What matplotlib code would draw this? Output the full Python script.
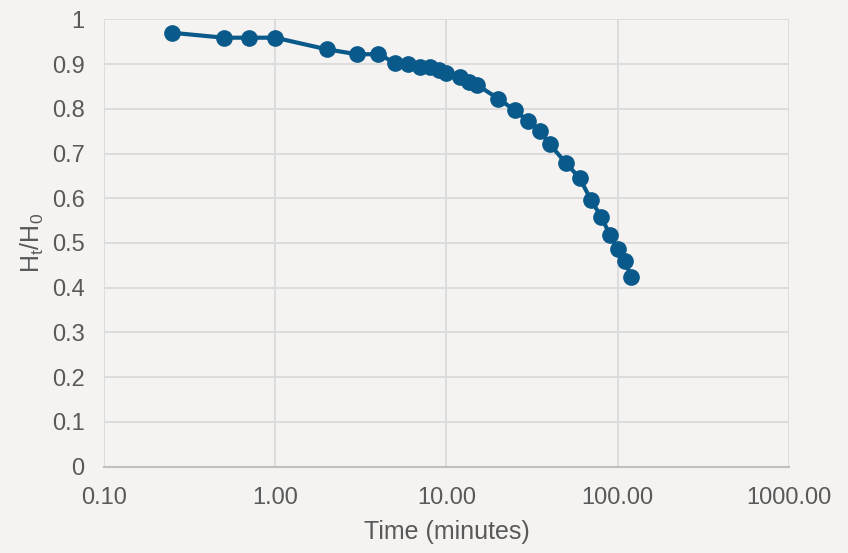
import matplotlib
matplotlib.use('Agg')
import matplotlib.pyplot as plt
from matplotlib.ticker import FuncFormatter, FixedLocator

# time in minutes and relative height Ht/H0
time_min = [0.25, 0.5, 0.7, 1, 2, 3, 4, 5, 6, 7, 8, 9, 10, 12, 13.5, 15,
            20, 25, 30, 35, 40, 50, 60, 70, 80, 90, 100, 110, 120]
height_ratio = [0.970, 0.959, 0.959, 0.959, 0.933, 0.922, 0.922, 0.903, 0.901,
                0.893, 0.894, 0.886, 0.880, 0.870, 0.859, 0.854,
                0.823, 0.797, 0.772, 0.751, 0.721, 0.678, 0.645, 0.595,
                0.559, 0.518, 0.486, 0.460, 0.424]

x_ticks = [0.1, 1, 10, 100, 1000]
y_ticks = [0, 0.1, 0.2, 0.3, 0.4, 0.5, 0.6, 0.7, 0.8, 0.9, 1]

bg = '#f5f3f1'
txt = '#595959'
blue = '#09598a'

plt.rcParams['font.family'] = ['Liberation Sans', 'DejaVu Sans']

fig = plt.figure(figsize=(8.48, 5.53), dpi=100, facecolor=bg)
ax = fig.add_axes([0.1226, 0.1564, 0.8078, 0.8086], facecolor=bg)

ax.plot(time_min, height_ratio, color=blue, lw=3, marker='o',
        markersize=11, markerfacecolor=blue, markeredgecolor=blue, zorder=3)

ax.set_xscale('log')
ax.set_xlim(0.1, 1000)
ax.set_ylim(0, 1)
ax.xaxis.set_major_locator(FixedLocator(x_ticks))
ax.xaxis.set_minor_locator(FixedLocator([]))
ax.yaxis.set_major_locator(FixedLocator(y_ticks))
ax.xaxis.set_major_formatter(FuncFormatter(lambda v, p: f'{v:.2f}'))
ax.yaxis.set_major_formatter(FuncFormatter(lambda v, p: f'{v:g}'))

ax.grid(True, which='major', color='#dadada', lw=1.3)
ax.set_axisbelow(True)
for s in ['top', 'right', 'left']:
    ax.spines[s].set_visible(False)
ax.spines['bottom'].set_color('#bfbfbf')
ax.spines['bottom'].set_linewidth(1.5)

ax.tick_params(axis='both', length=0, labelsize=17, labelcolor=txt)
ax.tick_params(axis='x', pad=15)
ax.tick_params(axis='y', pad=14)

ax.set_xlabel('Time (minutes)', fontsize=18, color=txt, labelpad=8)
ax.set_ylabel(r'H$_\mathregular{t}$/H$_\mathregular{0}$', fontsize=18, color=txt, labelpad=4)

fig.savefig('out.png', dpi=100, facecolor=bg)
